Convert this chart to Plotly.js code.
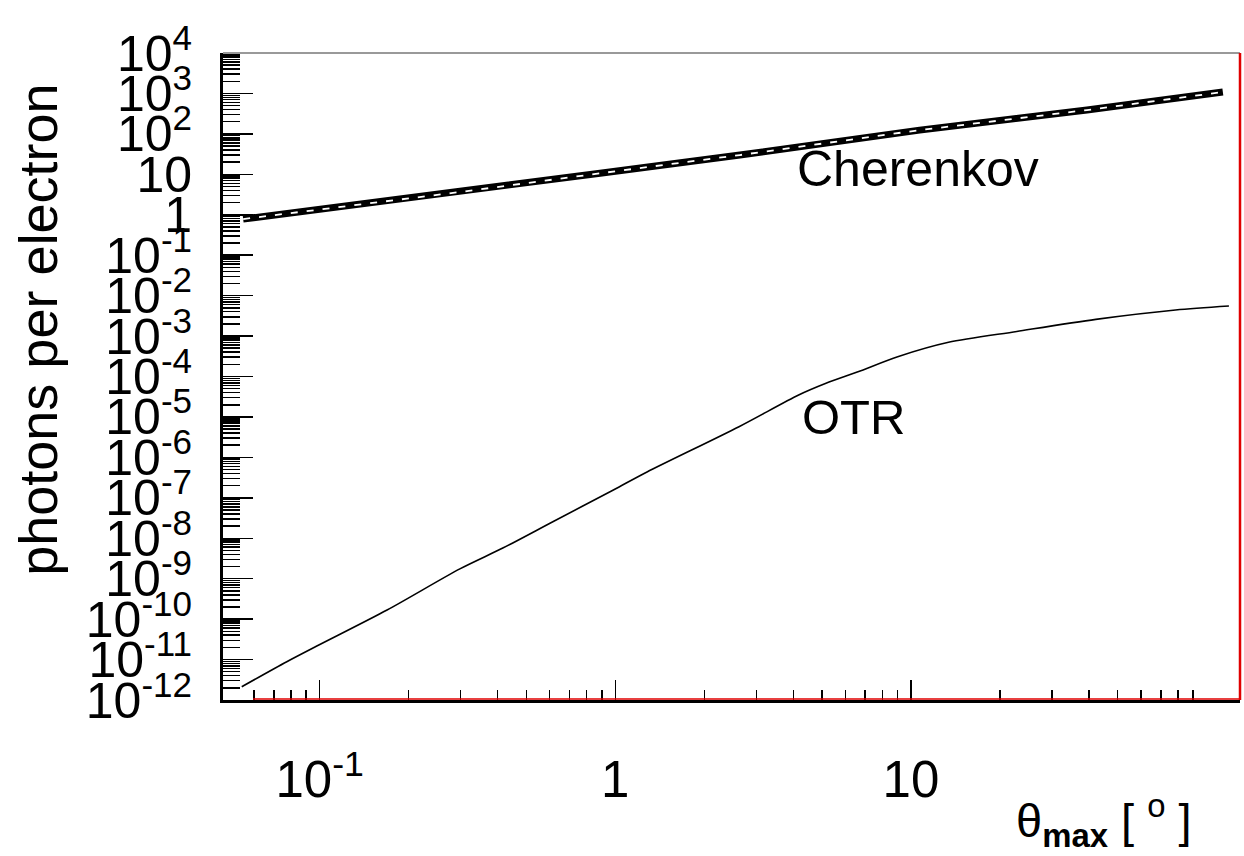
<!DOCTYPE html>
<html>
<head>
<meta charset="utf-8">
<script src="https://cdn.plot.ly/plotly-3.0.1.min.js"></script>
<style>
html, body { margin: 0; padding: 0; background: #ffffff; }
#chart { width: 1244px; height: 856px; }
</style>
</head>
<body>
<div id="chart"></div>
<script>
// ---- data ----
const cherenkovTheta   = [0.0551, 0.2985, 0.888, 2.64, 10.7, 39.4, 113.5];
const cherenkovPhotons = [0.783, 3.65, 10.6, 30.0, 124, 388, 1084];

const otrTheta   = [0.0545, 0.0774, 0.0978, 0.169, 0.298, 0.418, 0.617, 0.985, 1.28, 2.62,
                    4.17, 5.16, 6.62, 9.02, 13.4, 22.8, 42.2, 78.5, 119];
const otrPhotons = [2.13e-12, 8.85e-12, 2.16e-11, 1.68e-10, 1.75e-9, 5.8e-9, 2.6e-8, 1.56e-7, 4.35e-7, 5.73e-6,
                    3.48e-5, 6.78e-5, 1.31e-4, 3.08e-4, 7.0e-4, 1.3e-3, 2.59e-3, 4.41e-3, 5.54e-3];

// ---- axis ticks ----
const xTickVals = [0.1, 1, 10];
const xTickText = ["10<sup>-1</sup>", "1", "10"];
const xMinorTicks = [0.06, 0.07, 0.08, 0.09,
                     0.2, 0.3, 0.4, 0.5, 0.6, 0.7, 0.8, 0.9,
                     2, 3, 4, 5, 6, 7, 8, 9,
                     20, 30, 40, 50, 60, 70, 80, 90];

const yExponents = [-12, -11, -10, -9, -8, -7, -6, -5, -4, -3, -2, -1, 0, 1, 2, 3, 4];
const yTickVals = yExponents.map(e => Math.pow(10, e));
const yTickText = ["10<sup>-12</sup>", "10<sup>-11</sup>", "10<sup>-10</sup>", "10<sup>-9</sup>",
                   "10<sup>-8</sup>", "10<sup>-7</sup>", "10<sup>-6</sup>", "10<sup>-5</sup>",
                   "10<sup>-4</sup>", "10<sup>-3</sup>", "10<sup>-2</sup>", "10<sup>-1</sup>",
                   "1", "10", "10<sup>2</sup>", "10<sup>3</sup>", "10<sup>4</sup>"];
const yMinorTicks = [];
for (let e = -12; e < 4; e++) {
  for (let d = 2; d <= 9; d++) yMinorTicks.push(d * Math.pow(10, e));
}

const labelFont = "Liberation Sans, Arial, Helvetica, sans-serif";
const textFont = "Liberation Sans, Arial, Helvetica, sans-serif";

const traces = [
  { x: cherenkovTheta, y: cherenkovPhotons, mode: "lines", name: "Cherenkov",
    line: { color: "#000000", width: 7 }, hoverinfo: "skip" },
  { x: cherenkovTheta, y: cherenkovPhotons, mode: "lines", name: "Cherenkov",
    line: { color: "#ffffff", width: 1.8, dash: "7px,9px" }, hoverinfo: "skip" },
  { x: otrTheta, y: otrPhotons, mode: "lines", name: "OTR",
    line: { color: "#000000", width: 1.6, shape: "spline", smoothing: 0.8 }, hoverinfo: "skip" }
];

const layout = {
  width: 1244, height: 856,
  margin: { l: 223, r: 4, t: 53, b: 156 },
  paper_bgcolor: "#ffffff", plot_bgcolor: "#ffffff",
  showlegend: false,
  xaxis: {
    type: "log", range: [-1.327, 2.113],
    tickmode: "array", tickvals: xTickVals, ticktext: xTickText,
    ticks: "inside", ticklen: 20, tickwidth: 1.5, tickcolor: "#000000",
    minor: { tickmode: "array", tickvals: xMinorTicks, ticks: "inside", ticklen: 10, tickwidth: 1.5, tickcolor: "#000000", showgrid: false },
    showgrid: false, zeroline: false,
    showline: true, linecolor: "#000000", linewidth: 3,
    tickfont: { family: labelFont, size: 51, color: "#000000" },
    ticklabelstandoff: 33
  },
  yaxis: {
    type: "log", range: [-12, 4],
    tickmode: "array", tickvals: yTickVals, ticktext: yTickText,
    ticks: "inside", ticklen: 30, tickwidth: 1.5, tickcolor: "#000000",
    minor: { tickmode: "array", tickvals: yMinorTicks, ticks: "inside", ticklen: 17, tickwidth: 1.5, tickcolor: "#000000", showgrid: false },
    showgrid: false, zeroline: false,
    showline: true, linecolor: "#000000", linewidth: 3,
    tickfont: { family: labelFont, size: 50, color: "#000000" },
    ticklabelstandoff: 18
  },
  shapes: [
    { type: "line", xref: "paper", yref: "paper", x0: 0, x1: 1, y0: 1, y1: 1,
      line: { color: "#777777", width: 1.5 } },
    { type: "line", xref: "paper", yref: "paper", x0: 1, x1: 1, y0: 0, y1: 1,
      line: { color: "#e00000", width: 2.5 } },
    { type: "line", xref: "paper", yref: "paper", ysizemode: "pixel", yanchor: 0,
      x0: 0.0295, x1: 1, y0: 1, y1: 1,
      line: { color: "#e00000", width: 1.5 } }
  ],
  annotations: [
    { text: "photons per electron", xref: "paper", yref: "paper", x: -0.182, y: 0.572,
      xanchor: "center", yanchor: "middle", textangle: -90, showarrow: false,
      font: { family: textFont, size: 54, color: "#000000" } },
    { text: "Cherenkov", xref: "paper", yref: "paper", x: 0.683, y: 0.8207,
      xanchor: "center", yanchor: "middle", showarrow: false,
      font: { family: textFont, size: 50, color: "#000000" } },
    { text: "OTR", xref: "paper", yref: "paper", x: 0.6195, y: 0.4374,
      xanchor: "center", yanchor: "middle", showarrow: false,
      font: { family: textFont, size: 49, color: "#000000" } },
    { text: "θ<sub><b>max</b></sub> [ <sup>o</sup> ]", xref: "paper", yref: "paper",
      x: 0.955, y: 0, xanchor: "right", yanchor: "middle", yshift: -120, showarrow: false,
      font: { family: textFont, size: 47, color: "#000000" } }
  ]
};

Plotly.newPlot("chart", traces, layout, { staticPlot: true, displayModeBar: false });
</script>
</body>
</html>
